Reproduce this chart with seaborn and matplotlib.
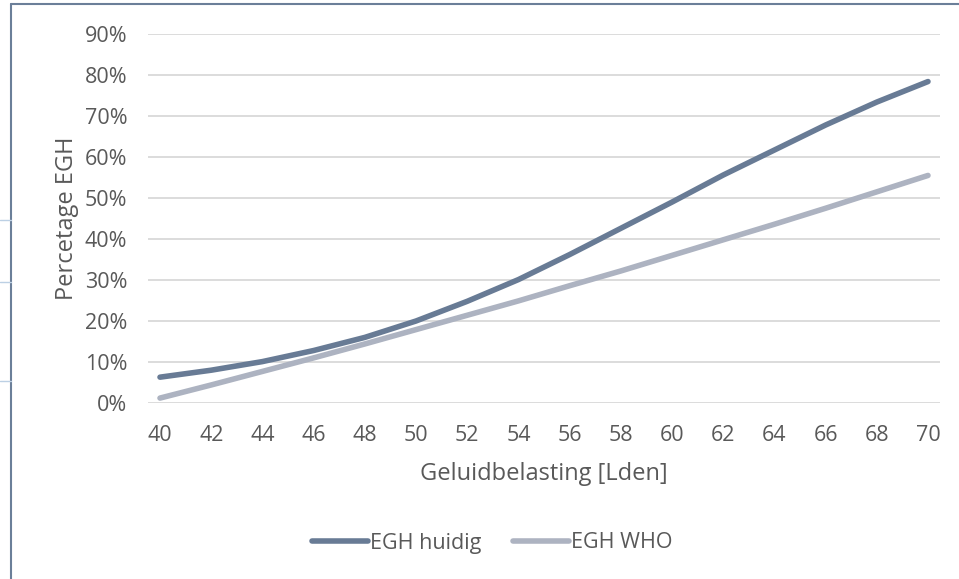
import numpy as np
import pandas as pd
import matplotlib
matplotlib.use("Agg")
import matplotlib.pyplot as plt
from matplotlib.lines import Line2D
import seaborn as sns

# ── Data ─────────────────────────────────────────────────────────────────────
lden = [40, 42, 44, 46, 48, 50, 52, 54, 56, 58, 60, 62, 64, 66, 68, 70]
egh_huidig = [6.3, 8.0, 10.1, 12.8, 16.0, 20.0, 24.8, 30.1, 36.2, 42.6,
              49.0, 55.6, 61.7, 67.8, 73.4, 78.4]
egh_who = [1.2, 4.4, 7.7, 11.0, 14.4, 17.9, 21.4, 24.9, 28.6, 32.2,
           36.0, 39.8, 43.6, 47.5, 51.5, 55.5]
series_names = ["EGH huidig", "EGH WHO"]
colors = ["#687b95", "#adb3c1"]
yticks = [0, 10, 20, 30, 40, 50, 60, 70, 80, 90]

TEXT = "#595959"
GRID = "#d9d9d9"

df = pd.DataFrame({
    "Lden": lden * 2,
    "pct": [v / 100 for v in egh_huidig + egh_who],
    "serie": [series_names[0]] * len(lden) + [series_names[1]] * len(lden),
})

sns.set_style("white")
plt.rcParams["font.family"] = ["Open Sans", "DejaVu Sans"]

fig = plt.figure(figsize=(9.59, 5.79), dpi=100)
ax = fig.add_axes([148 / 959, 1 - 403 / 579, (940 - 148) / 959, (403 - 34) / 579])

sns.lineplot(data=df, x="Lden", y="pct", hue="serie", palette=colors,
             linewidth=4.0, ax=ax, legend=False, solid_capstyle="round")

ax.set_xlim(40 - 12 / 25.6, 70 + 12 / 25.6)
ax.set_ylim(0, 0.9)
ax.set_xticks(lden)
ax.set_yticks([t / 100 for t in yticks])
ax.set_yticklabels([f"{t}%" for t in yticks])
ax.yaxis.grid(True, color=GRID, linewidth=1.3)
ax.set_axisbelow(True)
for s in ax.spines.values():
    s.set_visible(False)
ax.tick_params(axis="both", length=0, labelsize=15.5, colors=TEXT)
ax.tick_params(axis="x", pad=16)
ax.tick_params(axis="y", pad=15)
ax.set_xlabel("Geluidbelasting [Lden]", fontsize=17, color=TEXT, labelpad=11)
ax.set_ylabel("Percetage EGH", fontsize=17, color=TEXT, labelpad=4)

handles = [Line2D([0], [0], color=c, linewidth=4.0, solid_capstyle="round")
           for c in colors]
fig.legend(handles, series_names, loc="center", ncol=2, frameon=False,
           bbox_to_anchor=(492 / 959, 1 - 543 / 579), fontsize=15.5,
           labelcolor=TEXT, handlelength=2.6, handletextpad=0.1,
           columnspacing=1.45)

# outer frame of the original document
frame = "#6b7f99"
fig.add_artist(Line2D([11 / 959, 11 / 959], [0, 1 - 4 / 579], color=frame,
                      linewidth=1.5, transform=fig.transFigure))
fig.add_artist(Line2D([11 / 959, 1], [1 - 4 / 579, 1 - 4 / 579], color=frame,
                      linewidth=1.5, transform=fig.transFigure))
for yy in [220, 282, 381]:
    fig.add_artist(Line2D([0, 11 / 959], [1 - yy / 579, 1 - yy / 579],
                          color="#bcd0e4", linewidth=1.0,
                          transform=fig.transFigure))

fig.savefig("out.png", dpi=100)
